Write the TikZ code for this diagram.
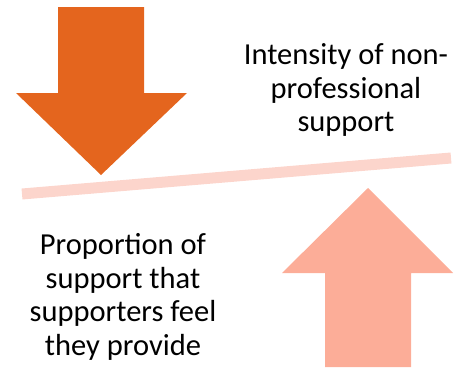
\documentclass[tikz,border=0pt]{standalone}
\usepackage{fontspec}
\setmainfont{Carlito}
\definecolor{darkorange}{RGB}{228,101,30}
\definecolor{salmon}{RGB}{252,173,152}
\definecolor{pale}{RGB}{252,213,204}
\begin{document}
\begin{tikzpicture}[x=1pt, y=-1pt, font=\fontsize{30.5}{33.5}\selectfont, line join=miter]
	\useasboundingbox (0,0) rectangle (458,367);
	% arrow pointing down
	\fill[darkorange] (58,7)--(144,7)--(144,93)--(187,93)--(101,175)--(16,93)--(58,93)--cycle ;
	% the beam
	\draw[pale,line width=11pt] (22,194)--(451,158) ;
	% arrow pointing up
	\fill[salmon] (368,188)--(453,273)--(411,273)--(411,367)--(325,367)--(325,273)--(282,273)--cycle ;
	\node[align=center] (intensity) at (346,90) {Intensity of non-\\professional\\support} ;
	\node[align=center] (proportion) at (123,297) {Proportion of\\support that\\supporters feel\\they provide} ;
\end{tikzpicture}
\end{document}
